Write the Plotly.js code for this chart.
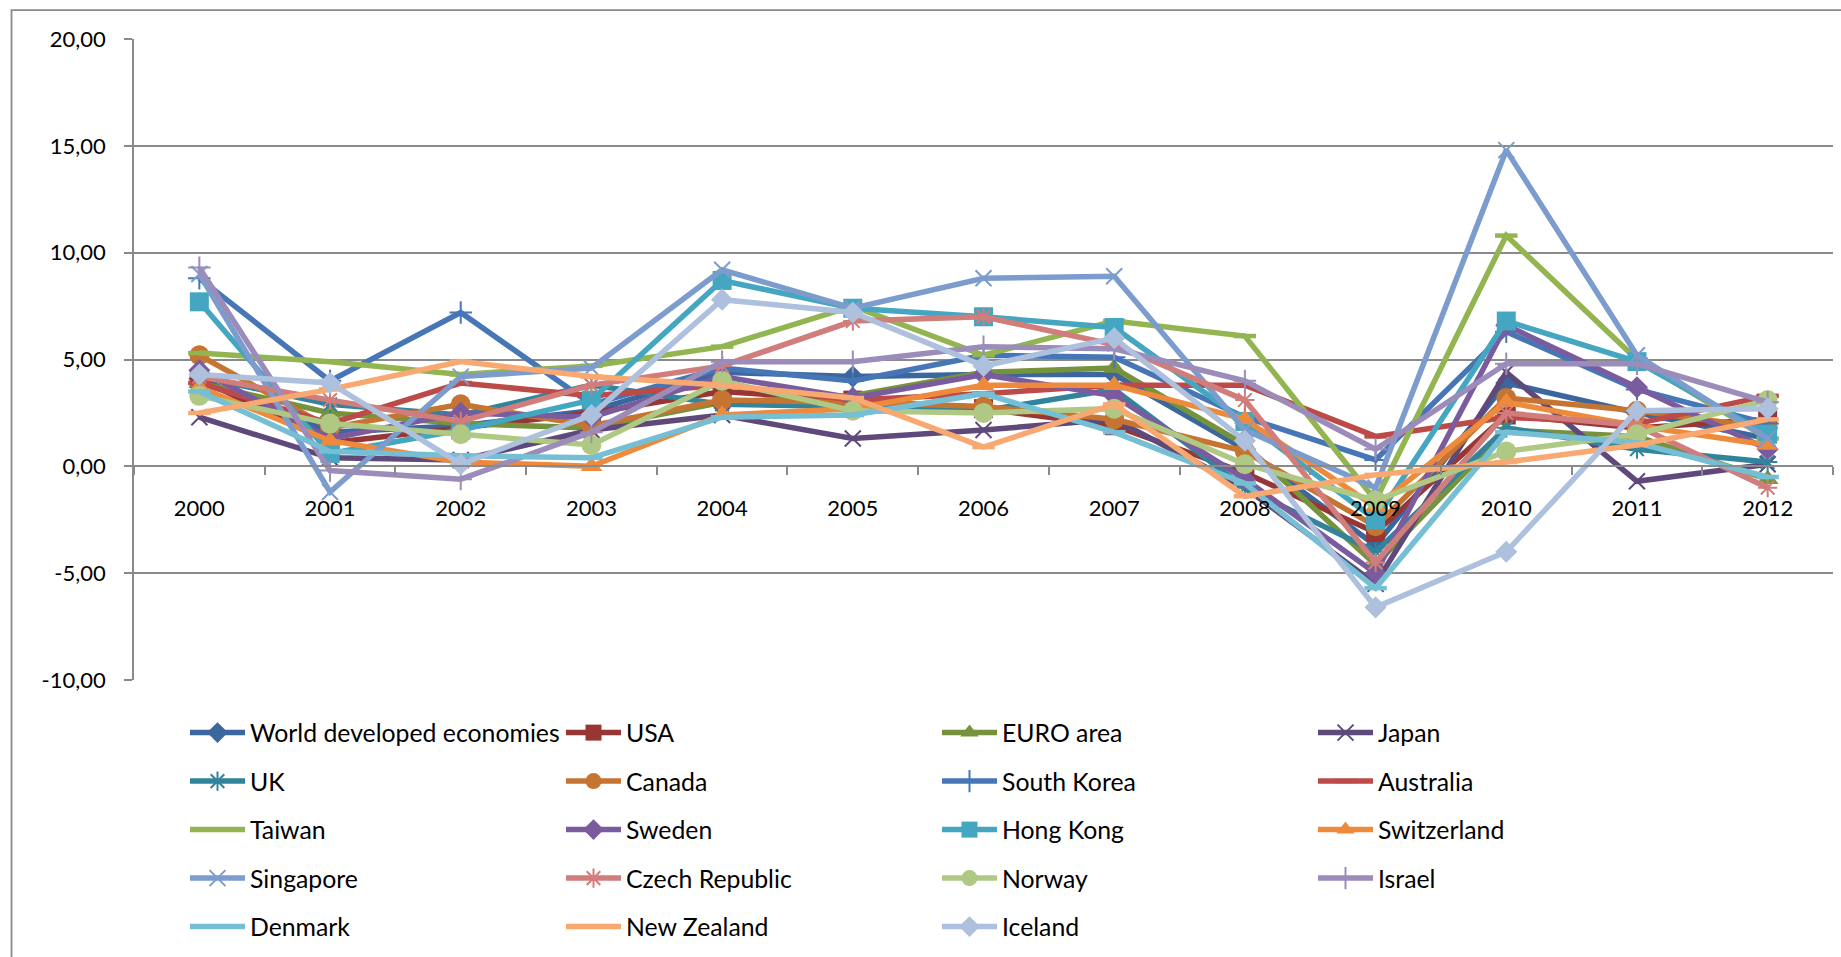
<!DOCTYPE html>
<html>
<head>
<meta charset="utf-8">
<script src="https://cdn.plot.ly/plotly-3.0.1.min.js"></script>
<style>
  html, body { margin: 0; padding: 0; background: #ffffff; }
  #chart { width: 1841px; height: 957px; }
</style>
</head>
<body>
<div id="chart"></div>
<script>
// ---------- data ----------
const years = ['2000','2001','2002','2003','2004','2005','2006','2007','2008','2009','2010','2011','2012'];

const yTickValues = [-10, -5, 0, 5, 10, 15, 20];
const yTickLabels = ['-10,00', '-5,00', '0,00', '5,00', '10,00', '15,00', '20,00'];

const seriesNames = [
  'World developed economies', 'USA', 'EURO area', 'Japan',
  'UK', 'Canada', 'South Korea', 'Australia',
  'Taiwan', 'Sweden', 'Hong Kong', 'Switzerland',
  'Singapore', 'Czech Republic', 'Norway', 'Israel',
  'Denmark', 'New Zealand', 'Iceland'
];

const worldDeveloped = [4.1, 1.6, 1.9, 2.6, 4.4, 4.2, 4.3, 4.3, 0.8, -3.7, 3.9, 2.5, 1.3];
const usa            = [4.1, 1.1, 1.8, 2.5, 3.5, 3.1, 2.7, 1.9, -0.3, -3.1, 2.4, 1.8, 2.2];
const euroArea       = [3.9, 2.5, 2.0, 1.8, 3.0, 3.3, 4.4, 4.6, 1.0, -4.6, 1.7, 1.4, -0.6];
const japan          = [2.3, 0.4, 0.3, 1.7, 2.4, 1.3, 1.7, 2.2, -1.0, -5.5, 4.4, -0.7, 0.1];
const uk             = [4.2, 2.9, 2.4, 3.8, 2.9, 2.8, 2.6, 3.6, -1.0, -4.0, 1.8, 0.8, 0.2];
const canada         = [5.2, 1.8, 2.9, 1.9, 3.1, 3.0, 2.8, 2.2, 0.7, -2.8, 3.2, 2.6, 1.8];
const southKorea     = [8.8, 4.0, 7.2, 2.9, 4.6, 4.0, 5.2, 5.1, 2.3, 0.3, 6.3, 3.6, 2.0];
const australia      = [3.9, 2.0, 3.9, 3.3, 3.8, 3.1, 3.4, 3.8, 3.8, 1.4, 2.3, 2.0, 3.3];
const taiwan         = [5.3, 4.9, 4.3, 4.7, 5.6, 7.5, 5.2, 6.8, 6.1, -1.6, 10.8, 5.0, 1.3];
const sweden         = [4.5, 1.3, 2.5, 2.3, 4.2, 3.2, 4.3, 3.3, -0.6, -5.0, 6.6, 3.7, 0.8];
const hongKong       = [7.7, 0.6, 1.7, 3.1, 8.7, 7.4, 7.0, 6.5, 2.1, -2.5, 6.8, 4.9, 1.5];
const switzerland    = [3.7, 1.2, 0.2, 0.0, 2.4, 2.7, 3.8, 3.8, 2.2, -1.9, 3.0, 1.9, 1.0];
const singapore      = [9.0, -1.2, 4.2, 4.6, 9.2, 7.4, 8.8, 8.9, 1.7, -1.0, 14.8, 5.2, 1.3];
const czechRepublic  = [4.2, 3.1, 2.1, 3.8, 4.7, 6.8, 7.0, 5.7, 3.1, -4.5, 2.5, 1.9, -1.0];
const norway         = [3.3, 2.0, 1.5, 1.0, 4.0, 2.6, 2.5, 2.7, 0.1, -1.6, 0.7, 1.5, 3.1];
const israel         = [9.3, -0.2, -0.6, 1.6, 4.9, 4.9, 5.6, 5.5, 4.0, 0.8, 4.8, 4.8, 3.0];
const denmark        = [3.5, 0.7, 0.5, 0.4, 2.3, 2.4, 3.4, 1.6, -0.8, -5.7, 1.6, 1.1, -0.5];
const newZealand     = [2.5, 3.6, 4.9, 4.2, 3.8, 3.2, 0.9, 2.9, -1.4, -0.4, 0.2, 1.0, 2.2];
const iceland        = [4.3, 3.9, 0.1, 2.4, 7.8, 7.2, 4.7, 6.0, 1.2, -6.6, -4.0, 2.6, 2.7];

const seriesValues = [
  worldDeveloped, usa, euroArea, japan,
  uk, canada, southKorea, australia,
  taiwan, sweden, hongKong, switzerland,
  singapore, czechRepublic, norway, israel,
  denmark, newZealand, iceland
];

// ---------- styles ----------
const seriesColors = [
  '#3B679E', '#963735', '#76923C', '#5F497A',
  '#31849B', '#C67431', '#4676B6', '#BC4A48',
  '#93B551', '#7A5C9E', '#44A6C0', '#EE8A3C',
  '#7C9CCD', '#D07D7B', '#AFC884', '#9C8CBA',
  '#75BED3', '#F8A971', '#ADC0DD'
];
const seriesSymbols = [
  'diamond', 'square', 'triangle-up', 'x-thin-open',
  'asterisk-open', 'circle', 'cross-thin-open', 'line-ew-open',
  'line-ew-open', 'diamond', 'square', 'triangle-up',
  'x-thin-open', 'asterisk-open', 'circle', 'cross-thin-open',
  'line-ew-open', 'line-ew-open', 'diamond'
];
const symbolSize = {
  'diamond': 17, 'square': 19, 'triangle-up': 19, 'x-thin-open': 16,
  'asterisk-open': 16, 'circle': 20, 'cross-thin-open': 16, 'line-ew-open': 16
};
const symbolLine = {
  'diamond': 0, 'square': 0, 'triangle-up': 0, 'x-thin-open': 2,
  'asterisk-open': 2, 'circle': 0, 'cross-thin-open': 2, 'line-ew-open': 4.5
};

const legendIds = ['legend', 'legend2', 'legend3', 'legend4', 'legend5'];

const traces = seriesNames.map(function (name, i) {
  const sym = seriesSymbols[i];
  return {
    type: 'scatter',
    mode: 'lines+markers',
    name: name,
    x: years,
    y: seriesValues[i],
    legend: legendIds[Math.floor(i / 4)],
    line: { color: seriesColors[i], width: 5.5 },
    marker: {
      symbol: sym,
      size: symbolSize[sym],
      color: seriesColors[i],
      line: { color: seriesColors[i], width: symbolLine[sym] }
    },
    cliponaxis: false,
    hoverinfo: 'x+y+name'
  };
});

// ---------- layout ----------
const W = 1841, H = 957;
const M = { l: 134, r: 8, t: 39, b: 276 };
const plotW = W - M.l - M.r;
const plotH = H - M.t - M.b;
const pxToPaperX = function (px) { return (px - M.l) / plotW; };
const pxToPaperY = function (py) { return (H - M.b - py) / plotH; };

const gridColor = '#8A8A8A';
const tickFont = { family: 'Lato, "Open Sans", sans-serif', size: 22, color: '#000000' };
const legendFont = { family: 'Lato, "Open Sans", sans-serif', size: 24.8, color: '#000000' };

const legendRowsY = [733, 781.5, 830, 878.5, 927];

function legendRow(py) {
  return {
    orientation: 'h',
    x: pxToPaperX(185),
    xanchor: 'left',
    y: pxToPaperY(py),
    yanchor: 'middle',
    entrywidth: 306,
    entrywidthmode: 'pixels',
    itemwidth: 55,
    font: legendFont,
    bgcolor: 'rgba(0,0,0,0)',
    borderwidth: 0,
    traceorder: 'normal',
    itemclick: false,
    itemdoubleclick: false
  };
}

const layout = {
  width: W,
  height: H,
  margin: M,
  paper_bgcolor: '#ffffff',
  plot_bgcolor: '#ffffff',
  showlegend: true,
  xaxis: {
    type: 'category',
    categoryorder: 'array',
    categoryarray: years,
    range: [-0.5, years.length - 0.5],
    anchor: 'free',
    position: 1 / 3,
    showgrid: false,
    zeroline: false,
    showline: true,
    linecolor: gridColor,
    linewidth: 1.8,
    ticks: 'outside',
    tickson: 'boundaries',
    ticklen: 8,
    tickwidth: 1.8,
    tickcolor: gridColor,
    tickfont: tickFont,
    ticklabelstandoff: 22,
    fixedrange: true
  },
  yaxis: {
    range: [-10, 20],
    tickmode: 'array',
    tickvals: yTickValues,
    ticktext: yTickLabels,
    showgrid: true,
    gridcolor: gridColor,
    gridwidth: 1.8,
    zeroline: false,
    showline: true,
    linecolor: gridColor,
    linewidth: 1.8,
    ticks: 'outside',
    ticklen: 8,
    tickwidth: 1.8,
    tickcolor: gridColor,
    tickfont: tickFont,
    ticklabelstandoff: 14,
    fixedrange: true
  },
  legend: legendRow(legendRowsY[0]),
  legend2: legendRow(legendRowsY[1]),
  legend3: legendRow(legendRowsY[2]),
  legend4: legendRow(legendRowsY[3]),
  legend5: legendRow(legendRowsY[4]),
  shapes: [{
    type: 'rect',
    xref: 'paper', yref: 'paper',
    x0: pxToPaperX(11.5), x1: pxToPaperX(W + 20),
    y0: pxToPaperY(H + 20), y1: pxToPaperY(10),
    line: { color: gridColor, width: 1.8 },
    fillcolor: 'rgba(0,0,0,0)',
    layer: 'below'
  }]
};

Plotly.newPlot('chart', traces, layout, { displayModeBar: false, staticPlot: false, responsive: false });
</script>
</body>
</html>
